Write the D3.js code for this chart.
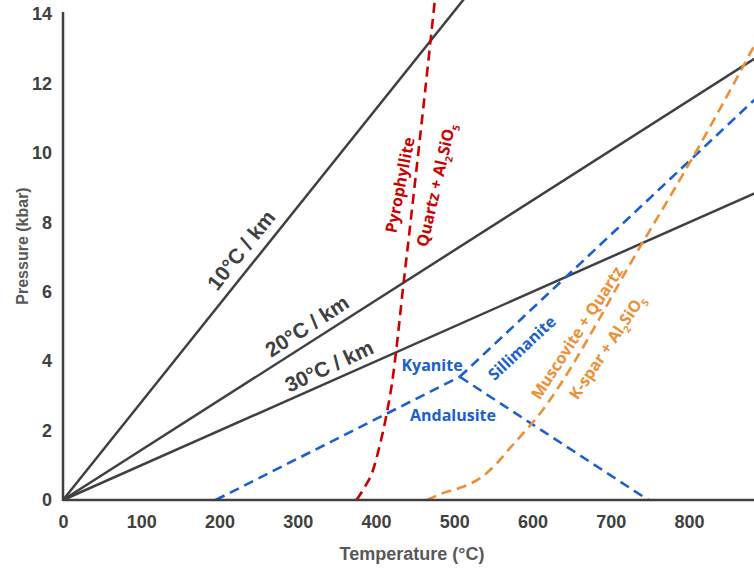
<!DOCTYPE html>
<html>
<head>
<meta charset="utf-8">
<script src="https://cdn.jsdelivr.net/npm/d3@7"></script>
<style>
  html, body { margin: 0; padding: 0; background: #fff; }
  svg { display: block; }
</style>
</head>
<body>
<svg id="chart"></svg>
<script>
// ── Data ───────────────────────────────
const tempTicks = [0, 100, 200, 300, 400, 500, 600, 700, 800];
const pressTicks = [0, 2, 4, 6, 8, 10, 12, 14];

// geotherms: label + gradient in °C per kbar
const geoLabels = ['10°C / km', '20°C / km', '30°C / km'];
const geoGrad   = [35.5, 69.5, 100];

// aluminosilicate boundaries [T °C, P kbar]
const andKy  = [[195, 0], [507, 3.55]];
const andSil = [[507, 3.55], [748, 0]];
const kySil  = [[507, 3.55], [900, 11.88]];

// pyrophyllite breakdown
const pyroLine = [[375, 0], [385, 0.35], [396, 0.85], [404, 1.5], [412, 2.3], [420, 3.3],
                  [436, 6.4], [470, 13.3], [478, 15]];
// muscovite + quartz breakdown
const muscLine = [[465, 0], [488, 0.22], [511, 0.38], [533, 0.63], [552, 1.0], [569, 1.44],
                  [584, 1.82], [599, 2.2], [741, 7.43], [805, 9.88], [900, 13.79]];

// ── Layout ─────────────────────────────
const W = 754, H = 569;
const BLUE = '#1a5fd0', RED = '#cc0000', ORANGE = '#ec9038', DARK = '#404040', GREY = '#595959';
const AXFONT = 'Liberation Sans, Arial, sans-serif';

const svg = d3.select('#chart').attr('width', W).attr('height', H);

const x = d3.scaleLinear().domain([0, 883]).range([63, 754]);
const y = d3.scaleLinear().domain([0, 14.06]).range([500, 12]);

const line = d3.line().x(d => x(d[0])).y(d => y(d[1]));
const curve = d3.line().x(d => x(d[0])).y(d => y(d[1])).curve(d3.curveMonotoneX);

// Geotherms
geoGrad.forEach(g => {
  svg.append('path')
    .attr('d', line([[0, 0], [900, 900 / g]]))
    .attr('fill', 'none').attr('stroke', DARK).attr('stroke-width', 2.5);
});

// Reaction boundaries
const dashed = (data, color, gen) => svg.append('path')
  .attr('d', gen(data))
  .attr('fill', 'none').attr('stroke', color)
  .attr('stroke-width', 2.6).attr('stroke-dasharray', '10,6');

dashed(andKy, BLUE, line);
dashed(andSil, BLUE, line);
dashed(kySil, BLUE, line);
dashed(pyroLine, RED, curve);
dashed(muscLine, ORANGE, curve);

// Axes
svg.append('line')
  .attr('x1', x(0)).attr('x2', W).attr('y1', y(0)).attr('y2', y(0))
  .attr('stroke', DARK).attr('stroke-width', 2.5);
svg.append('line')
  .attr('x1', x(0)).attr('x2', x(0)).attr('y1', y(0) + 1).attr('y2', y(14.06))
  .attr('stroke', DARK).attr('stroke-width', 2.5);

const xAxis = svg.append('g')
  .attr('transform', `translate(0,${y(0)})`)
  .call(d3.axisBottom(x).tickValues(tempTicks).tickSize(0).tickPadding(15));
const yAxis = svg.append('g')
  .attr('transform', `translate(${x(0)},0)`)
  .call(d3.axisLeft(y).tickValues(pressTicks).tickSize(0).tickPadding(11));
[xAxis, yAxis].forEach(a => {
  a.select('.domain').remove();
  a.selectAll('text')
    .attr('font-family', AXFONT)
    .attr('font-weight', 'bold').attr('font-size', 18).attr('fill', DARK);
});

svg.append('text')
  .attr('x', 412).attr('y', 560).attr('text-anchor', 'middle')
  .attr('font-family', AXFONT)
  .attr('font-weight', 'bold').attr('font-size', 18).attr('fill', GREY)
  .text('Temperature (°C)');

svg.append('text')
  .attr('transform', 'translate(28,246) rotate(-90)').attr('text-anchor', 'middle')
  .attr('font-family', AXFONT)
  .attr('font-weight', 'bold').attr('font-size', 16).attr('fill', GREY)
  .text('Pressure (kbar)');

// Geotherm labels
const geoPos = [[241, 250, -51.4], [307, 326, -33], [329, 366, -25]];
geoLabels.forEach((t, i) => {
  const [px, py, a] = geoPos[i];
  svg.append('text')
    .attr('transform', `translate(${px},${py}) rotate(${a})`)
    .attr('text-anchor', 'middle').attr('dy', '0.35em')
    .attr('font-family', 'Liberation Sans, Arial, sans-serif')
    .attr('font-weight', 'bold').attr('font-size', 21).attr('fill', DARK)
    .text(t);
});

// Coloured labels; {sub} parts are subscripts
function label(px, py, a, color, size, parts) {
  const t = svg.append('text')
    .attr('transform', `translate(${px},${py}) rotate(${a})`)
    .attr('text-anchor', 'middle').attr('dy', '0.35em')
    .attr('font-family', 'Open Sans, sans-serif')
    .attr('font-weight', 'bold').attr('font-size', size).attr('fill', color);
  let low = false;
  parts.forEach(p => {
    if (typeof p === 'string') {
      t.append('tspan').attr('dy', low ? -size * 0.3 : null).text(p);
      low = false;
    } else {
      t.append('tspan').attr('font-size', size * 0.62).attr('dy', low ? null : size * 0.3).text(p.sub);
      low = true;
    }
  });
}

label(432, 365, 0, BLUE, 16, ['Kyanite']);
label(453, 415, 0, BLUE, 16, ['Andalusite']);
label(522, 348, -43, BLUE, 16, ['Sillimanite']);

label(400, 185, -79, RED, 16, ['Pyrophyllite']);
label(436, 185, -77, RED, 16, ['Quartz + Al', {sub: '2'}, 'SiO', {sub: '5'}]);

label(577, 333, -57, ORANGE, 16, ['Muscovite + Quartz']);
label(607, 347, -56, ORANGE, 16, ['K-spar + Al', {sub: '2'}, 'SiO', {sub: '5'}]);
</script>
</body>
</html>
